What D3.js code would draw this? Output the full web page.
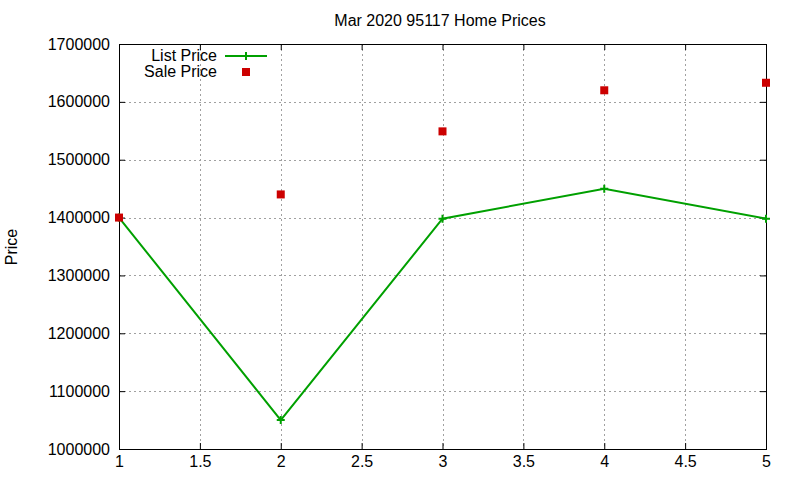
<!DOCTYPE html>
<html>
<head>
<meta charset="utf-8">
<script src="https://cdn.jsdelivr.net/npm/d3@7"></script>
<style>
  body { margin: 0; background: #fff; }
  svg { font-family: "Liberation Sans", Arial, sans-serif; }
</style>
</head>
<body>
<svg width="800" height="480"></svg>
<script>
// data
var months = [1, 2, 3, 4, 5];
var listPrice = [1400000, 1050000, 1398000, 1450000, 1398000];
var salePrice = [1400000, 1440000, 1549000, 1620000, 1633000];
var xTicks = [1, 1.5, 2, 2.5, 3, 3.5, 4, 4.5, 5];
var yTicks = [1000000, 1100000, 1200000, 1300000, 1400000, 1500000, 1600000, 1700000];

var svg = d3.select("svg"),
  margin = {top: 44, right: 34, bottom: 31, left: 119},
  width = +svg.attr("width") - margin.left - margin.right,
  height = +svg.attr("height") - margin.top - margin.bottom,
  g = svg.append("g").attr("transform", "translate(" + margin.left + "," + margin.top + ")");

var green = "#00a000", red = "#cc0000";

var x = d3.scaleLinear().domain([1, 5]).range([0, width]);
var y = d3.scaleLinear().domain([1000000, 1700000]).range([height, 0]);

// grid
g.append("g")
  .selectAll("line")
  .data(xTicks.slice(1, -1))
  .enter().append("line")
    .attr("x1", function(d) { return Math.round(x(d)) + 0.5; })
    .attr("x2", function(d) { return Math.round(x(d)) + 0.5; })
    .attr("y1", 0).attr("y2", height)
    .attr("stroke", "#a0a0a0").attr("stroke-dasharray", "2,3");

g.append("g")
  .selectAll("line")
  .data(yTicks.slice(1, -1))
  .enter().append("line")
    .attr("y1", function(d) { return Math.round(y(d)) + 0.5; })
    .attr("y2", function(d) { return Math.round(y(d)) + 0.5; })
    .attr("x1", 0).attr("x2", width)
    .attr("stroke", "#a0a0a0").attr("stroke-dasharray", "2,3");

// axes, ticks inward like gnuplot
function styleAxis(sel) {
  sel.select(".domain").remove();
  sel.selectAll("line").attr("stroke", "#000");
  sel.selectAll("text").attr("fill", "#000").style("font-size", "16px");
}

g.append("g")
  .attr("transform", "translate(0," + height + ")")
  .call(d3.axisBottom(x).tickValues(xTicks).tickSizeInner(-6).tickSizeOuter(0).tickPadding(7).tickFormat(d3.format("")))
  .call(styleAxis);

g.append("g")
  .call(d3.axisTop(x).tickValues(xTicks).tickSizeInner(-6).tickSizeOuter(0).tickFormat(""))
  .call(styleAxis);

g.append("g")
  .call(d3.axisLeft(y).tickValues(yTicks).tickSizeInner(-6).tickSizeOuter(0).tickPadding(9).tickFormat(d3.format("d")))
  .call(styleAxis);

g.append("g")
  .attr("transform", "translate(" + width + ",0)")
  .call(d3.axisRight(y).tickValues(yTicks).tickSizeInner(-6).tickSizeOuter(0).tickFormat(""))
  .call(styleAxis);

g.append("rect")
  .attr("x", 0.5).attr("y", 0.5)
  .attr("width", width).attr("height", height)
  .attr("fill", "none").attr("stroke", "#000");

// list price line + plus markers
var line = d3.line()
  .x(function(d, i) { return x(months[i]); })
  .y(function(d) { return y(d); });

g.append("path")
  .datum(listPrice)
  .attr("d", line)
  .attr("fill", "none")
  .attr("stroke", green)
  .attr("stroke-width", 2);

g.append("g")
  .selectAll("path")
  .data(listPrice)
  .enter().append("path")
    .attr("d", "M-4,0H4M0,-4V4")
    .attr("transform", function(d, i) { return "translate(" + x(months[i]) + "," + y(d) + ")"; })
    .attr("stroke", green).attr("stroke-width", 2);

// sale price squares
g.append("g")
  .selectAll("rect")
  .data(salePrice)
  .enter().append("rect")
    .attr("x", function(d, i) { return x(months[i]) - 4; })
    .attr("y", function(d) { return y(d) - 4; })
    .attr("width", 8).attr("height", 8)
    .attr("fill", red);

// title and axis label
svg.append("text")
  .text("Mar 2020 95117 Home Prices")
  .attr("x", 440).attr("y", 26)
  .attr("text-anchor", "middle")
  .style("font-size", "16px");

svg.append("text")
  .text("Price")
  .attr("transform", "translate(17,247) rotate(-90)")
  .attr("text-anchor", "middle")
  .style("font-size", "16px");

// legend
var legend = svg.append("g").style("font-size", "16px");
legend.append("text").text("List Price")
  .attr("x", 217).attr("y", 61).attr("text-anchor", "end");
legend.append("line")
  .attr("x1", 225).attr("x2", 267).attr("y1", 56).attr("y2", 56)
  .attr("stroke", green).attr("stroke-width", 2);
legend.append("path")
  .attr("d", "M-4,0H4M0,-4V4")
  .attr("transform", "translate(246,56)")
  .attr("stroke", green).attr("stroke-width", 2);
legend.append("text").text("Sale Price")
  .attr("x", 217).attr("y", 77).attr("text-anchor", "end");
legend.append("rect")
  .attr("x", 242).attr("y", 68).attr("width", 8).attr("height", 8)
  .attr("fill", red);
</script>
</body>
</html>
